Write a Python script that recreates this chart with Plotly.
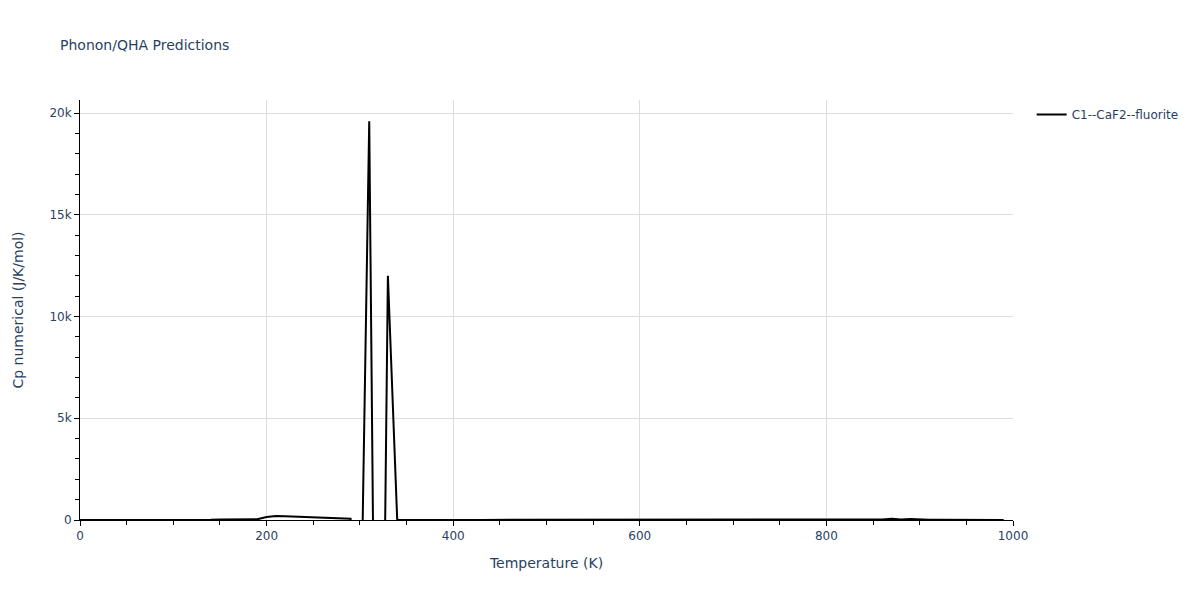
import plotly.graph_objects as go

temperature = list(range(0, 1000, 10))
cp = [
    0, 0.5, 1, 2, 3, 4, 5, 5, 5, 4,            # 0-90
    3, -15, -25, -10, 10, 25, 30, 30, 30, 35,  # 100-190
    150, 200, 190, 170, 150, 130, 110, 90, 80, 60,  # 200-290
    -8400, 19600, -29400, 12000, 0, 5, 5, 5, 5, 5,  # 300-390
    5, 5, 5, 5, 5, 5, 5, 5, 5, 5,              # 400-490
    5, 5, 5, 5, 5, 5, 5, 5, 5, 5,              # 500-590
    5, 5, 5, 5, 5, 5, 5, 5, 5, 5,              # 600-690
    5, 5, 5, 5, 5, 5, 5, 5, 5, 5,              # 700-790
    5, 5, 5, 5, 5, -5, 30, 60, 20, 50,         # 800-890
    20, 10, 15, 10, 5, 5, 10, 5, 5, 0,         # 900-990
]

fig = go.Figure()
fig.add_trace(go.Scatter(
    x=temperature, y=cp, mode="lines",
    name="C1--CaF2--fluorite",
    line=dict(color="black", width=2),
))

axis_common = dict(
    showline=True, linecolor="black", linewidth=1,
    ticks="outside", tickcolor="black", ticklen=5,
    showgrid=True, gridcolor="#dddddd", zeroline=False,
)

fig.update_layout(
    template="plotly_white",
    width=1200, height=600,
    font=dict(family="Verdana, DejaVu Sans, sans-serif", color="#2a3f5f"),
    title=dict(text="Phonon/QHA Predictions", x=0.05, font=dict(size=14)),
    margin=dict(l=80, r=187, t=100, b=80),
    xaxis=dict(title=dict(text="Temperature (K)"), range=[0, 1000], dtick=200,
               minor=dict(ticks="outside", dtick=50, tickcolor="black", ticklen=4),
               **axis_common),
    yaxis=dict(title=dict(text="Cp numerical (J/K/mol)", standoff=22), range=[0, 20640], dtick=5000,
               minor=dict(ticks="outside", dtick=1000, tickcolor="black", ticklen=4),
               **axis_common),
    showlegend=True,
    legend=dict(x=1.02, y=1, xanchor="left", yanchor="top"),
)

fig.write_html("out.html", config={"displayModeBar": False},
               post_script="document.body.style.margin='0px';")
